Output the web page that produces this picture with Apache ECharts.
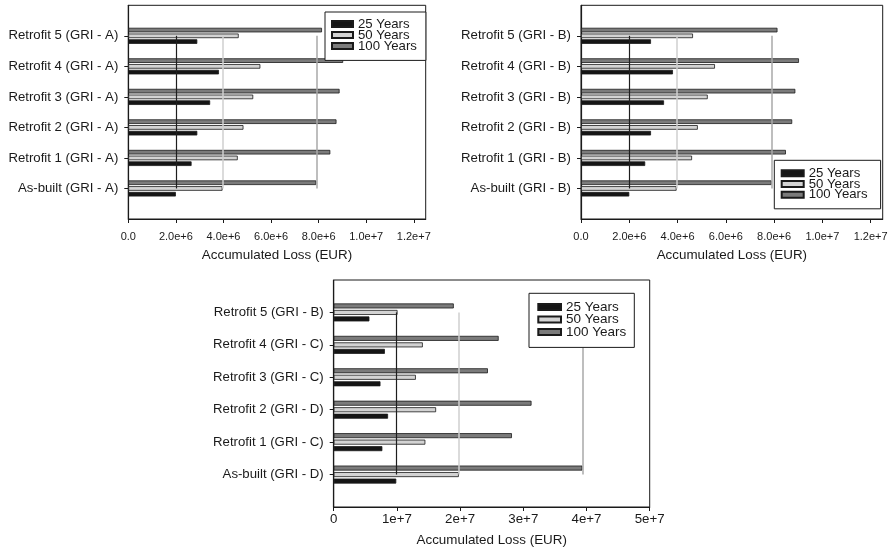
<!DOCTYPE html>
<html>
<head>
<meta charset="utf-8">
<script src="https://cdn.jsdelivr.net/npm/echarts@6/dist/echarts.min.js"></script>
<style>
  html, body { margin: 0; padding: 0; background: #fff; }
  #chart { width: 895px; height: 548px; }
</style>
</head>
<body>
<div id="chart"></div>
<script>
// ---- data (order: As-built, Retrofit 1 ... Retrofit 5) ----
const categoriesA = ['As-built (GRI - A)', 'Retrofit 1 (GRI - A)', 'Retrofit 2 (GRI - A)', 'Retrofit 3 (GRI - A)', 'Retrofit 4 (GRI - A)', 'Retrofit 5 (GRI - A)'];
const loss25A  = [2.00e6, 2.66e6, 2.90e6, 3.44e6, 3.81e6, 2.90e6];
const loss50A  = [3.96e6, 4.60e6, 4.84e6, 5.25e6, 5.55e6, 4.64e6];
const loss100A = [7.90e6, 8.49e6, 8.75e6, 8.88e6, 9.03e6, 8.14e6];

const categoriesB = ['As-built (GRI - B)', 'Retrofit 1 (GRI - B)', 'Retrofit 2 (GRI - B)', 'Retrofit 3 (GRI - B)', 'Retrofit 4 (GRI - B)', 'Retrofit 5 (GRI - B)'];
const loss25B  = [2.00e6, 2.66e6, 2.90e6, 3.44e6, 3.81e6, 2.90e6];
const loss50B  = [3.96e6, 4.60e6, 4.84e6, 5.25e6, 5.55e6, 4.64e6];
const loss100B = [7.90e6, 8.49e6, 8.75e6, 8.88e6, 9.03e6, 8.14e6];

const categoriesC = ['As-built (GRI - D)', 'Retrofit 1 (GRI - C)', 'Retrofit 2 (GRI - D)', 'Retrofit 3 (GRI - C)', 'Retrofit 4 (GRI - C)', 'Retrofit 5 (GRI - B)'];
const loss25C  = [9.90e6, 7.70e6, 8.60e6, 7.40e6, 8.10e6, 5.65e6];
const loss50C  = [1.98e7, 1.45e7, 1.62e7, 1.30e7, 1.41e7, 1.01e7];
const loss100C = [3.935e7, 2.82e7, 3.13e7, 2.44e7, 2.61e7, 1.90e7];

const ticksSmall = [0, 2e6, 4e6, 6e6, 8e6, 1e7, 1.2e7];
const ticksLarge = [0, 1e7, 2e7, 3e7, 4e7, 5e7];

const seriesNames = ['25 Years', '50 Years', '100 Years'];
const axisTitle = 'Accumulated Loss (EUR)';

// ---- styling ----
const FONT = '"Liberation Sans", Arial, Helvetica, sans-serif';
const INK = '#1a1a1a';
const fills = { '25 Years': '#151515', '50 Years': '#d3d3d3', '100 Years': '#7b7b7b' };
const refColors = { '25 Years': '#1e1e1e', '50 Years': '#cfcfcf', '100 Years': '#a8a8a8' };
const refWidths = { '25 Years': 1.2, '50 Years': 1.5, '100 Years': 1.5 };

const fmtSmall = v => (v === 0 ? '0.0' : v.toExponential(1));
const fmtLarge = v => (v === 0 ? '0' : v.toExponential(0));

const panels = [
  { cats: categoriesA, v: { '25 Years': loss25A, '50 Years': loss50A, '100 Years': loss100A },
    ticks: ticksSmall, max: 1.25e7, fmt: fmtSmall,
    grid: { left: 128.3, top: 5.3, width: 297.4, height: 213.7 },
    xFont: 11, xMargin: 12.5, nameGap: 29.5, barWidth: 4.6, barGap: '25%',
    legend: { left: 325, top: 12, padding: [5.4, 9, 8, 6], gap: -2, fontSize: 13.2, itemWidth: 21 } },
  { cats: categoriesB, v: { '25 Years': loss25B, '50 Years': loss50B, '100 Years': loss100B },
    ticks: ticksSmall, max: 1.25e7, fmt: fmtSmall,
    grid: { left: 581, top: 5.3, width: 301.7, height: 213.7 },
    xFont: 11, xMargin: 12.5, nameGap: 29.5, barWidth: 4.6, barGap: '25%',
    legend: { left: 774.3, top: 160.3, padding: [6.4, 13, 7.5, 6.4], gap: -2.2, fontSize: 13.2, itemWidth: 22 } },
  { cats: categoriesC, v: { '25 Years': loss25C, '50 Years': loss50C, '100 Years': loss100C },
    ticks: ticksLarge, max: 5e7, fmt: fmtLarge,
    grid: { left: 333.7, top: 280, width: 316, height: 227.3 },
    xFont: 13.3, xMargin: 5.5, nameGap: 27, barWidth: 5, barGap: '30%',
    legend: { left: 529, top: 293.3, padding: [6.6, 8, 8.5, 8.3], gap: -1.5, fontSize: 13.5, itemWidth: 22.7 } }
];

const option = {
  animation: false,
  backgroundColor: '#fff',
  textStyle: { fontFamily: FONT, color: INK },
  grid: [], xAxis: [], yAxis: [], series: [], legend: []
};

panels.forEach((p, i) => {
  // one empty slot below and above the categories leaves room at both ends
  const yCats = [''].concat(p.cats, ['']);
  const pad = arr => ['-'].concat(arr, ['-']);

  option.grid.push(Object.assign({
    show: true, borderColor: INK, borderWidth: 1, backgroundColor: 'transparent', containLabel: false
  }, p.grid));

  option.xAxis.push({
    type: 'value', gridIndex: i, min: 0, max: p.max,
    axisLine: { show: true, lineStyle: { color: INK, width: 1.2 } },
    axisTick: { show: true, length: 4, customValues: p.ticks, lineStyle: { color: INK, width: 1 } },
    axisLabel: { customValues: p.ticks, formatter: p.fmt, fontSize: p.xFont, margin: p.xMargin,
                 color: INK, fontFamily: FONT },
    splitLine: { show: false },
    name: axisTitle, nameLocation: 'middle', nameGap: p.nameGap,
    nameTextStyle: { fontSize: 13.4, color: INK, fontFamily: FONT }
  });

  option.yAxis.push({
    type: 'category', gridIndex: i, data: yCats, boundaryGap: false,
    axisLine: { show: true, lineStyle: { color: INK, width: 1.2 } },
    axisTick: { show: true, length: 4, interval: (idx, val) => val !== '', lineStyle: { color: INK, width: 1 } },
    axisLabel: { interval: 0, fontSize: 13.2, margin: 10, color: INK, fontFamily: FONT },
    splitLine: { show: false }
  });

  // top-to-bottom inside each group: 100, 50, 25 years
  ['100 Years', '50 Years', '25 Years'].forEach(name => {
    const s = {
      type: 'bar', name: name, xAxisIndex: i, yAxisIndex: i,
      data: pad(p.v[name]),
      barWidth: p.barWidth, barGap: p.barGap,
      itemStyle: { color: fills[name], borderColor: INK, borderWidth: 0.8 },
      emphasis: { disabled: true }
    };
    if (name === '50 Years') {
      // reference lines at the As-built level of each horizon
      s.markLine = {
        symbol: 'none', silent: true, animation: false,
        label: { show: false },
        data: seriesNames.map(n => [
          { coord: [p.v[n][0], p.cats.length], lineStyle: { color: refColors[n], width: refWidths[n], type: 'solid' } },
          { coord: [p.v[n][0], 1] }
        ])
      };
    }
    option.series.push(s);
  });

  option.legend.push({
    data: seriesNames, orient: 'vertical',
    left: p.legend.left, top: p.legend.top, padding: p.legend.padding,
    itemWidth: p.legend.itemWidth, itemHeight: 6, itemGap: p.legend.gap, icon: 'rect',
    selectedMode: false, z: 10,
    backgroundColor: '#fff', borderColor: INK, borderWidth: 1, borderRadius: 0,
    textStyle: { fontSize: p.legend.fontSize, color: INK, fontFamily: FONT }
  });
});

const chart = echarts.init(document.getElementById('chart'), null, { renderer: 'canvas' });
chart.setOption(option);
</script>
</body>
</html>
